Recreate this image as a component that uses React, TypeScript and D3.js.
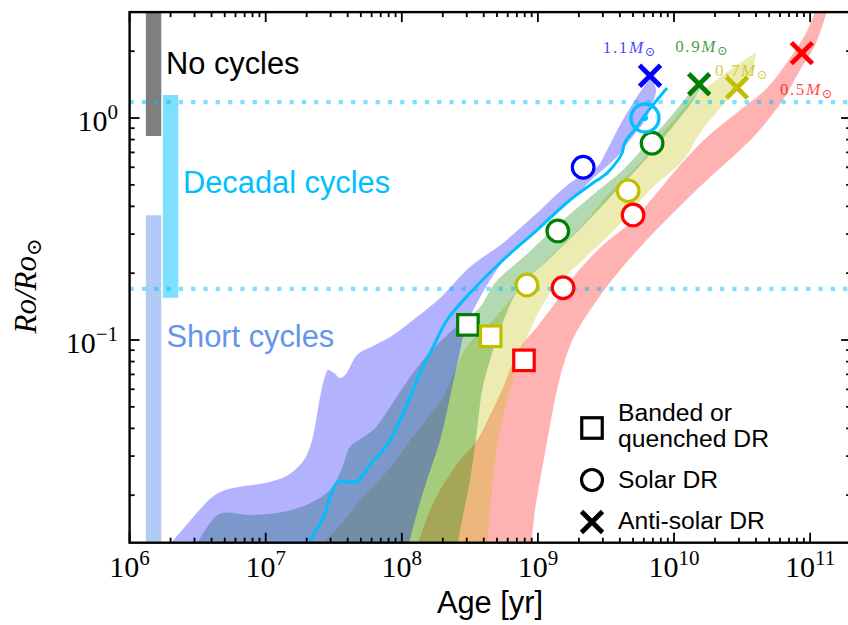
import React from 'react';
import * as d3 from 'd3';

const WIDTH = 848;
const HEIGHT = 625;

// ---------- axis limits & ticks ----------
const AGE_LIMITS: [number, number] = [1e6, 2e11];
const RO_LIMITS: [number, number] = [0.01222, 3];
const X_MAJOR_EXPONENTS = [6, 7, 8, 9, 10, 11];
const Y_MAJOR_EXPONENTS = [-1, 0];

type Pt = [number, number]; // [age (yr), Ro/Ro_sun]

// ---------- rotation-evolution bands (fast edge, slow edge) ----------
// 1.1 Msun
const band11Fast: Pt[] = [
  [1.88e6, 0.0116], [2.55e6, 0.0144], [3.29e6, 0.0173], [4.03e6, 0.0196], [5.02e6, 0.0211],
  [7.05e6, 0.022], [9.88e6, 0.0227], [1.32e7, 0.0239], [1.64e7, 0.026], [1.95e7, 0.0294],
  [2.19e7, 0.0354], [2.38e7, 0.046], [2.55e7, 0.0583], [2.73e7, 0.0688], [2.87e7, 0.0733],
  [3.18e7, 0.071], [3.52e7, 0.0674], [3.89e7, 0.0703], [4.69e7, 0.0856], [6.36e7, 0.0949],
  [8.19e7, 0.1031], [1.21e8, 0.1231], [1.91e8, 0.1546], [3.17e8, 0.2133], [5.54e8, 0.2735],
  [9.85e8, 0.3733], [1.72e9, 0.5097], [2.72e9, 0.6016], [3.22e9, 0.7176], [4.01e9, 0.93],
  [5.0e9, 1.168], [5.92e9, 1.365], [6.78e9, 1.514],
];
const band11Slow: Pt[] = [
  [6.78e9, 1.514], [7.38e9, 1.337], [6.89e9, 1.144], [6.02e9, 0.959], [4.75e9, 0.796],
  [3.75e9, 0.661], [2.55e9, 0.537], [1.8e9, 0.432], [1.03e9, 0.32], [5.85e8, 0.234],
  [4.45e8, 0.186], [3.51e8, 0.144], [2.91e8, 0.111], [2.59e8, 0.0813], [2.26e8, 0.0553],
  [1.91e8, 0.0354], [1.53e8, 0.0234], [1.29e8, 0.0166], [1.11e8, 0.0116],
];
// 0.9 Msun
const band09Fast: Pt[] = [
  [3.02e6, 0.0116], [3.58e6, 0.0139], [4.62e6, 0.0165], [7.67e6, 0.0163], [1.34e7, 0.0168],
  [2.12e7, 0.0184], [2.97e7, 0.0211], [3.64e7, 0.0265], [4.16e7, 0.033], [5.1e7, 0.0362],
  [6.36e7, 0.0401], [7.92e7, 0.0484], [9.7e7, 0.0583], [1.21e8, 0.071], [1.61e8, 0.0883],
  [2.46e8, 0.1132], [3.76e8, 0.1408], [4.84e8, 0.1806], [8.46e8, 0.2465], [1.45e9, 0.3365],
  [2.63e9, 0.4595], [4.22e9, 0.5832], [6.66e9, 0.796], [9.67e9, 1.032], [1.27e10, 1.269],
  [1.5e10, 1.452],
];
const band09Slow: Pt[] = [
  [1.66e10, 1.423], [1.31e10, 1.144], [9.35e9, 0.883], [6.12e9, 0.647], [3.69e9, 0.464],
  [2.11e9, 0.323], [1.23e9, 0.234], [7.14e8, 0.168], [5.27e8, 0.111], [4.45e8, 0.0813],
  [3.89e8, 0.0595], [3.57e8, 0.0393], [3.17e8, 0.0234], [2.82e8, 0.0163], [2.54e8, 0.0116],
];
// 0.7 Msun
const band07Fast: Pt[] = [
  [2.42e7, 0.0116], [3.52e7, 0.0147], [4.93e7, 0.019], [6.58e7, 0.0229], [8.91e7, 0.0282],
  [1.15e8, 0.0354], [1.61e8, 0.046], [2.01e8, 0.0553], [2.46e8, 0.0733], [3.06e8, 0.0949],
  [4.55e8, 0.1206], [6.9e8, 0.1628], [1.2e9, 0.234], [2.08e9, 0.323], [3.4e9, 0.464],
  [5.9e9, 0.647], [8.6e9, 0.883], [1.35e10, 1.205], [2.05e10, 1.483], [3.3e10, 1.83],
  [3.85e10, 1.95],
];
const band07Slow: Pt[] = [
  [4.01e10, 1.983], [3.6e10, 1.52], [2.6e10, 1.243], [1.61e10, 0.883], [1.17e10, 0.647],
  [6.66e9, 0.474], [3.81e9, 0.323], [2.22e9, 0.234], [1.23e9, 0.1628], [7.64e8, 0.0902],
  [6.24e8, 0.0595], [5.27e8, 0.0393], [4.76e8, 0.026], [4.45e8, 0.01715], [4.23e8, 0.0116],
];
// 0.5 Msun
const band05Fast: Pt[] = [
  [1.29e8, 0.0116], [1.56e8, 0.0163], [1.91e8, 0.0211], [2.68e8, 0.0288], [3.57e8, 0.0354],
  [4.45e8, 0.046], [5.45e8, 0.0595], [6.45e8, 0.0772], [7.64e8, 0.0949], [9.85e8, 0.1145],
  [1.34e9, 0.1468], [1.87e9, 0.1963], [3.01e9, 0.268], [4.75e9, 0.3365], [7.25e9, 0.45],
  [1.11e10, 0.614], [1.75e10, 0.821], [3.06e10, 1.087], [4.82e10, 1.365], [7.12e10, 1.863],
  [9.17e10, 2.365], [1.09e11, 3.003], [1.18e11, 3.4],
];
const band05Slow: Pt[] = [
  [1.45e11, 3.4], [1.33e11, 3.003], [1.09e11, 2.132], [8.43e10, 1.645], [6.32e10, 1.205],
  [4.07e10, 0.856], [3.06e10, 0.718], [1.75e10, 0.526], [9.83e9, 0.373], [5.63e9, 0.262],
  [3.5e9, 0.1864], [2.42e9, 0.1365], [1.87e9, 0.1053], [1.58e9, 0.0813], [1.38e9, 0.0595],
  [1.21e9, 0.0393], [1.07e9, 0.026], [9.52e8, 0.01715], [8.9e8, 0.0116],
];

// 1.0 Msun (solar) track
const sunTrack: Pt[] = [
  [2.05e7, 0.0119], [2.3e7, 0.01365], [2.64e7, 0.0158], [2.97e7, 0.0196], [3.23e7, 0.0222],
  [3.52e7, 0.0232], [4.16e7, 0.0229], [4.77e7, 0.0232], [5.1e7, 0.0244], [6.04e7, 0.0282],
  [7.28e7, 0.032], [8.47e7, 0.0366], [9.7e7, 0.0436], [1.15e8, 0.0553], [1.36e8, 0.071],
  [1.7e8, 0.093], [2.15e8, 0.1231], [3.17e8, 0.1628], [5.54e8, 0.2293], [9.85e8, 0.313],
  [1.72e9, 0.4272], [2.42e9, 0.4992], [3.22e9, 0.5652], [3.88e9, 0.647], [4.15e9, 0.696],
  [4.37e9, 0.78], [5.26e9, 0.902], [6.12e9, 1.032], [7.5e9, 1.205], [8.88e9, 1.365],
];
const sunNow: Pt = [6.12e9, 1.0];

// ---------- differential-rotation regime markers ----------
const bandedDR = [
  { mass: '0.9', age: 3.06e8, ro: 0.117 },
  { mass: '0.7', age: 4.5e8, ro: 0.104 },
  { mass: '0.5', age: 7.9e8, ro: 0.081 },
];
const solarDR = [
  { mass: '1.1', age: 2.15e9, ro: 0.6 },
  { mass: '0.9', age: 6.9e9, ro: 0.77 },
  { mass: '0.9', age: 1.4e9, ro: 0.31 },
  { mass: '0.7', age: 4.6e9, ro: 0.47 },
  { mass: '0.7', age: 8.3e8, ro: 0.177 },
  { mass: '0.5', age: 5.0e9, ro: 0.366 },
  { mass: '0.5', age: 1.53e9, ro: 0.172 },
];
const antiSolarDR = [
  { mass: '1.1', age: 6.66e9, ro: 1.55 },
  { mass: '0.9', age: 1.53e10, ro: 1.42 },
  { mass: '0.7', age: 2.9e10, ro: 1.37 },
  { mass: '0.5', age: 8.7e10, ro: 1.96 },
];
const massLabels = [
  { mass: '1.1', age: 3.0e9, ro: 1.97 },
  { mass: '0.9', age: 1.02e10, ro: 1.98 },
  { mass: '0.7', age: 2.0e10, ro: 1.55 },
  { mass: '0.5', age: 6.0e10, ro: 1.27 },
];

// ---------- cycle regimes ----------
const regimeNames = ['No cycles', 'Short cycles', 'Decadal cycles'];
const regimeAges = [1.5e6, 1.5e6, 2.0e6];
const regimeRoLow = [0.83, 0.005, 0.155];
const regimeRoHigh = [10, 0.365, 1.27];
const thresholdRo = [1.18, 0.17];

// ---------- styles ----------
const MASS_COLOR: Record<string, string> = {
  '1.1': '#0000ff',
  '0.9': '#008000',
  '0.7': '#bfbf00',
  '0.5': '#ff0000',
};
const REGIME_COLOR = ['#000000', '#6495ed', '#00bfff'];
const PLOT = { left: 129.6, right: 851.1, top: 12.1, bottom: 542.7 };
const SANS = "'Liberation Sans', Arial, Helvetica, sans-serif";
const SERIF = "'Liberation Serif', 'DejaVu Serif', serif";

export default function App() {
  const x = d3.scaleLog().domain(AGE_LIMITS).range([PLOT.left, PLOT.right]);
  const y = d3.scaleLog().domain(RO_LIMITS).range([PLOT.bottom, PLOT.top]);

  const edge = d3
    .line<Pt>()
    .x((d) => x(d[0]))
    .y((d) => y(d[1]))
    .curve(d3.curveCatmullRom.alpha(0.5));
  const bandPath = (fast: Pt[], slow: Pt[]) => {
    const a = edge(fast) || '';
    const b = edge(slow) || '';
    return a + 'L' + b.slice(1) + 'Z';
  };

  const bands = [
    { mass: '0.5', fast: band05Fast, slow: band05Slow },
    { mass: '0.7', fast: band07Fast, slow: band07Slow },
    { mass: '0.9', fast: band09Fast, slow: band09Slow },
    { mass: '1.1', fast: band11Fast, slow: band11Slow },
  ];

  // ticks
  const xMinor: number[] = [];
  for (let e = 6; e <= 11; e++)
    for (let k = 2; k <= 9; k++) {
      const v = k * Math.pow(10, e);
      if (v <= AGE_LIMITS[1] * 1.0001) xMinor.push(v);
    }
  const yMinor: number[] = [];
  for (let e = -2; e <= 0; e++)
    for (let k = 2; k <= 9; k++) {
      const v = k * Math.pow(10, e);
      if (v >= RO_LIMITS[0] && v <= RO_LIMITS[1] * 1.0001) yMinor.push(v);
    }
  const xMajor = X_MAJOR_EXPONENTS.map((e) => Math.pow(10, e));
  const yMajor = Y_MAJOR_EXPONENTS.map((e) => Math.pow(10, e));
  const MAJ = 10;
  const MIN = 5;
  const TW = 1.8;

  const crossPath = (cx: number, cy: number, h: number) =>
    `M${cx - h},${cy - h}L${cx + h},${cy + h}M${cx - h},${cy + h}L${cx + h},${cy - h}`;

  return (
    <svg
      width={WIDTH}
      height={HEIGHT}
      style={{ position: 'absolute', left: 0, top: 0, background: '#fff' }}
      xmlns="http://www.w3.org/2000/svg"
    >
      <defs>
        <clipPath id="plotClip">
          <rect
            x={PLOT.left}
            y={PLOT.top}
            width={PLOT.right - PLOT.left}
            height={PLOT.bottom - PLOT.top}
          />
        </clipPath>
      </defs>
      <rect x={0} y={0} width={WIDTH} height={HEIGHT} fill="#fff" />

      <g clipPath="url(#plotClip)">
        {/* regime bars */}
        {regimeAges.map((a, i) => (
          <line
            key={'rb' + i}
            x1={x(a)}
            x2={x(a)}
            y1={y(regimeRoLow[i])}
            y2={y(regimeRoHigh[i])}
            stroke={REGIME_COLOR[i]}
            strokeOpacity={0.5}
            strokeWidth={15.4}
          />
        ))}

        {/* bands */}
        {bands.map((b) => (
          <path
            key={'band' + b.mass}
            d={bandPath(b.fast, b.slow)}
            fill={MASS_COLOR[b.mass]}
            fillOpacity={0.3}
            stroke="none"
          />
        ))}

        {/* thresholds */}
        {thresholdRo.map((r, i) => (
          <line
            key={'th' + i}
            x1={PLOT.left}
            x2={PLOT.right}
            y1={y(r)}
            y2={y(r)}
            stroke="#00bfff"
            strokeOpacity={0.5}
            strokeWidth={4.3}
            strokeDasharray="4.3 8"
          />
        ))}

        {/* solar track */}
        <path d={edge(sunTrack) || ''} fill="none" stroke="#00bfff" strokeWidth={3} />
      </g>

      {/* regime labels */}
      <text x={166} y={74} fontFamily={SANS} fontSize={30.8} fill={REGIME_COLOR[0]}>
        {regimeNames[0]}
      </text>
      <text x={183} y={193} fontFamily={SANS} fontSize={30.8} fill={REGIME_COLOR[2]}>
        {regimeNames[2]}
      </text>
      <text x={166.5} y={347} fontFamily={SANS} fontSize={30.8} fill={REGIME_COLOR[1]}>
        {regimeNames[1]}
      </text>

      {/* markers */}
      {bandedDR.map((m, i) => (
        <rect
          key={'sq' + i}
          x={x(m.age) - 10.25}
          y={y(m.ro) - 10.25}
          width={20.5}
          height={20.5}
          fill="#fff"
          stroke={MASS_COLOR[m.mass]}
          strokeWidth={3.2}
        />
      ))}
      {solarDR.map((m, i) => (
        <circle
          key={'ci' + i}
          cx={x(m.age)}
          cy={y(m.ro)}
          r={10.8}
          fill="#fff"
          stroke={MASS_COLOR[m.mass]}
          strokeWidth={3.2}
        />
      ))}
      {antiSolarDR.map((m, i) => (
        <path
          key={'x' + i}
          d={crossPath(x(m.age), y(m.ro), 10.5)}
          stroke={MASS_COLOR[m.mass]}
          strokeWidth={4.8}
          fill="none"
        />
      ))}
      <circle cx={x(sunNow[0])} cy={y(sunNow[1])} r={14} fill="none" stroke="#00bfff" strokeWidth={3.4} />
      <circle cx={x(sunNow[0])} cy={y(sunNow[1])} r={3} fill="#00bfff" />

      {/* mass labels */}
      {massLabels.map((m, i) => (
        <text
          key={'ml' + i}
          x={x(m.age)}
          y={y(m.ro)}
          fontFamily={SERIF}
          fontSize={17}
          fill={MASS_COLOR[m.mass]}
          fillOpacity={0.75}
          letterSpacing={1.6}
        >
          {m.mass}
          <tspan fontStyle="italic">M</tspan>
          <tspan fontSize={13} dy={3}>
            ⊙
          </tspan>
        </text>
      ))}

      {/* ticks */}
      <g stroke="#000" strokeWidth={TW}>
        {xMajor.map((v) => (
          <g key={'xM' + v}>
            <line x1={x(v)} x2={x(v)} y1={PLOT.bottom} y2={PLOT.bottom - MAJ} />
            <line x1={x(v)} x2={x(v)} y1={PLOT.top} y2={PLOT.top + MAJ} />
          </g>
        ))}
        {xMinor.map((v) => (
          <g key={'xm' + v}>
            <line x1={x(v)} x2={x(v)} y1={PLOT.bottom} y2={PLOT.bottom - MIN} />
            <line x1={x(v)} x2={x(v)} y1={PLOT.top} y2={PLOT.top + MIN} />
          </g>
        ))}
        {yMajor.map((v) => (
          <g key={'yM' + v}>
            <line x1={PLOT.left} x2={PLOT.left + MAJ} y1={y(v)} y2={y(v)} />
            <line x1={PLOT.right} x2={PLOT.right - MAJ} y1={y(v)} y2={y(v)} />
          </g>
        ))}
        {yMinor.map((v) => (
          <g key={'ym' + v}>
            <line x1={PLOT.left} x2={PLOT.left + MIN} y1={y(v)} y2={y(v)} />
            <line x1={PLOT.right} x2={PLOT.right - MIN} y1={y(v)} y2={y(v)} />
          </g>
        ))}
      </g>

      {/* spines */}
      <rect
        x={PLOT.left}
        y={PLOT.top}
        width={PLOT.right - PLOT.left}
        height={PLOT.bottom - PLOT.top}
        fill="none"
        stroke="#000"
        strokeWidth={2.4}
      />

      {/* tick labels */}
      {X_MAJOR_EXPONENTS.map((e) => (
        <text
          key={'xl' + e}
          x={x(Math.pow(10, e))}
          y={577}
          textAnchor="middle"
          fontFamily={SERIF}
          fontSize={30}
          fill="#000"
        >
          10
          <tspan fontSize={21} dy={-12}>
            {String(e)}
          </tspan>
        </text>
      ))}
      {Y_MAJOR_EXPONENTS.map((e) => (
        <text
          key={'yl' + e}
          x={118}
          y={y(Math.pow(10, e)) + 12.5}
          textAnchor="end"
          fontFamily={SERIF}
          fontSize={30}
          fill="#000"
        >
          10
          <tspan fontSize={21} dy={-12}>
            {e < 0 ? '\u2212' + String(-e) : String(e)}
          </tspan>
        </text>
      ))}

      {/* axis labels */}
      <text x={490} y={613} textAnchor="middle" fontFamily={SANS} fontSize={30.8} fill="#000">
        Age [yr]
      </text>
      <text
        x={36}
        y={286}
        transform="rotate(-90 36 286)"
        textAnchor="middle"
        fontFamily={SERIF}
        fontSize={31}
        fontStyle="italic"
        fill="#000"
      >
        Ro/Ro
        <tspan fontStyle="normal" fontSize={21} dy={5}>
          ⊙
        </tspan>
      </text>

      {/* legend */}
      <g fontFamily={SANS} fontSize={24.7} fill="#000">
        <rect x={592 - 10.25} y={428 - 10.25} width={20.5} height={20.5} fill="#fff" stroke="#000" strokeWidth={3.2} />
        <text x={618} y={420.5}>Banded or</text>
        <text x={618} y={447.3}>quenched DR</text>
        <circle cx={592} cy={480} r={10.5} fill="#fff" stroke="#000" strokeWidth={3.2} />
        <text x={618} y={487.5}>Solar DR</text>
        <path d={crossPath(592, 522, 10.5)} stroke="#000" strokeWidth={4.8} fill="none" />
        <text x={618} y={528.5}>Anti-solar DR</text>
      </g>
    </svg>
  );
}
